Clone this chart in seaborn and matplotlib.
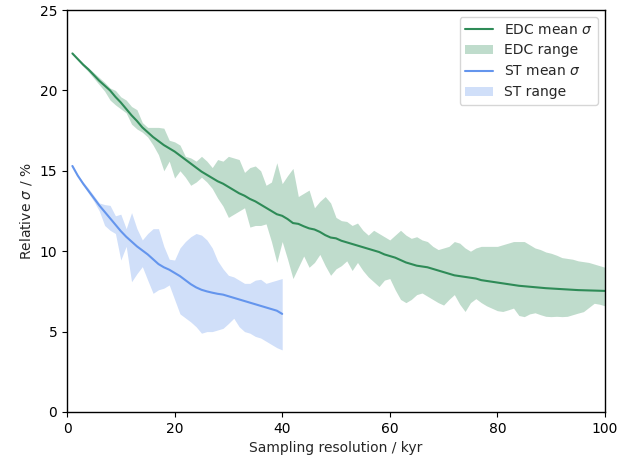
import numpy as np
import matplotlib
matplotlib.use("Agg")
import matplotlib.pyplot as plt
import seaborn as sns

# ---- data ----
edc_res = list(range(1, 101))
edc_mean = [22.3, 21.95, 21.6, 21.3, 20.95, 20.6, 20.3, 20.0, 19.6, 19.25,
            18.85, 18.45, 18.1, 17.7, 17.4, 17.1, 16.85, 16.6, 16.4, 16.2,
            15.95, 15.7, 15.45, 15.2, 14.95, 14.75, 14.55, 14.35, 14.2, 14.0,
            13.8, 13.6, 13.45, 13.25, 13.1, 12.9, 12.7, 12.5, 12.3, 12.2,
            12.0, 11.75, 11.7, 11.55, 11.42, 11.35, 11.2, 11.0, 10.85, 10.8,
            10.65, 10.55, 10.45, 10.35, 10.25, 10.15, 10.05, 9.95, 9.8, 9.7,
            9.6, 9.45, 9.3, 9.2, 9.1, 9.05, 9.0, 8.9, 8.8, 8.7,
            8.6, 8.5, 8.45, 8.4, 8.35, 8.3, 8.2, 8.15, 8.1, 8.05,
            8.0, 7.95, 7.9, 7.85, 7.82, 7.79, 7.76, 7.73, 7.7, 7.68,
            7.66, 7.64, 7.62, 7.6, 7.58, 7.57, 7.56, 7.55, 7.54, 7.53]
edc_upper = [22.3, 22.0, 21.7, 21.4, 21.1, 20.8, 20.5, 20.15, 20.0, 19.6,
             19.4, 19.0, 18.8, 18.0, 17.7, 17.7, 17.7, 17.65, 16.9, 16.8,
             16.6, 15.9, 15.8, 15.6, 15.9, 15.6, 15.2, 15.7, 15.6, 15.9,
             15.8, 15.7, 14.9, 15.2, 15.3, 15.0, 14.1, 14.3, 15.5, 14.2,
             14.7, 15.15, 13.4, 13.6, 13.8, 12.7, 13.1, 13.4, 13.0, 12.1,
             11.9, 11.85, 11.6, 11.75, 11.3, 11.0, 11.3, 11.1, 10.9, 10.7,
             11.0, 11.3, 11.0, 10.8, 10.9, 10.7, 10.6, 10.3, 10.1, 10.2,
             10.3, 10.6, 10.5, 10.2, 10.0, 10.2, 10.3, 10.3, 10.3, 10.3,
             10.4, 10.5, 10.6, 10.6, 10.6, 10.4, 10.2, 10.1, 9.95, 9.87,
             9.75, 9.6, 9.55, 9.5, 9.4, 9.35, 9.3, 9.2, 9.1, 9.0]
edc_lower = [22.3, 21.9, 21.5, 21.15, 20.75, 20.35, 19.95, 19.4, 19.1, 18.85,
             18.6, 17.9, 17.6, 17.4, 17.1, 16.6, 16.0, 15.0, 15.6, 14.55,
             15.0, 14.6, 14.1, 14.3, 14.6, 14.3, 13.9, 13.3, 12.8, 12.1,
             12.3, 12.5, 12.7, 11.5, 11.6, 11.6, 11.7, 10.6, 9.3, 10.6,
             9.5, 8.3, 9.0, 9.7, 9.0, 9.3, 9.8, 9.1, 8.5, 8.9,
             9.1, 9.4, 8.8, 9.3, 8.8, 8.4, 8.1, 7.8, 8.2, 8.3,
             7.6, 7.0, 6.8, 7.0, 7.3, 7.4, 7.2, 7.0, 6.8, 6.65,
             7.0, 7.3, 6.7, 6.25, 6.8, 7.05, 6.8, 6.6, 6.45, 6.3,
             6.25, 6.35, 6.46, 6.0, 5.93, 6.1, 6.17, 6.05, 5.95, 5.93,
             5.95, 5.93, 5.95, 6.05, 6.15, 6.24, 6.5, 6.76, 6.7, 6.6]

st_res = list(range(1, 41))
st_mean = [15.3, 14.7, 14.2, 13.75, 13.3, 12.85, 12.45, 12.05, 11.65, 11.25,
           10.9, 10.6, 10.3, 10.05, 9.8, 9.5, 9.2, 9.0, 8.85, 8.65,
           8.45, 8.2, 7.95, 7.75, 7.6, 7.5, 7.42, 7.35, 7.3, 7.2,
           7.1, 7.0, 6.9, 6.8, 6.7, 6.6, 6.5, 6.4, 6.3, 6.1]
st_upper = [15.3, 14.75, 14.3, 13.9, 13.45, 13.0, 12.9, 12.85, 12.2, 12.3,
            11.4, 12.4, 11.4, 10.7, 11.1, 11.4, 11.4, 10.3, 9.5, 9.45,
            10.2, 10.6, 10.9, 11.1, 11.0, 10.7, 10.2, 9.4, 8.9, 8.5,
            8.4, 8.2, 8.0, 8.0, 8.2, 8.25, 8.0, 8.1, 8.2, 8.3]
st_lower = [15.3, 14.65, 14.1, 13.6, 13.1, 12.5, 11.6, 11.3, 11.1, 9.45,
            10.3, 8.1, 8.6, 9.04, 8.2, 7.38, 7.6, 7.7, 7.9, 7.0,
            6.1, 5.85, 5.6, 5.3, 4.9, 5.0, 5.0, 5.1, 5.2, 5.5,
            5.83, 5.3, 5.0, 4.9, 4.7, 4.6, 4.4, 4.2, 4.0, 3.86]

edc_color = "seagreen"
st_color = "cornflowerblue"

sns.set_style("ticks")
plt.rcParams["font.family"] = ["DejaVu Sans"]
plt.rcParams["font.size"] = 10

fig = plt.figure(figsize=(6.17, 4.68), dpi=100)
ax = fig.add_axes([0.1086, 0.1197, 0.8719, 0.8589])

sns.lineplot(x=edc_res, y=edc_mean, color=edc_color, lw=1.5,
             label=r"EDC mean $\sigma$", ax=ax)
ax.fill_between(edc_res, edc_lower, edc_upper, color=edc_color, alpha=0.3,
                lw=0, label="EDC range")
sns.lineplot(x=st_res, y=st_mean, color=st_color, lw=1.5,
             label=r"ST mean $\sigma$", ax=ax)
ax.fill_between(st_res, st_lower, st_upper, color=st_color, alpha=0.3,
                lw=0, label="ST range")

ax.set_xlim(0, 100)
ax.set_ylim(0, 25)
ax.set_xlabel("Sampling resolution / kyr")
ax.set_ylabel(r"Relative $\sigma$ / %")
for s in ax.spines.values():
    s.set_visible(True)
    s.set_color("black")
    s.set_linewidth(1.0)
ax.tick_params(direction="out", length=3.5, width=0.8, colors="black")
ax.legend(loc="upper right", frameon=True)

fig.savefig("out.png", dpi=100)
